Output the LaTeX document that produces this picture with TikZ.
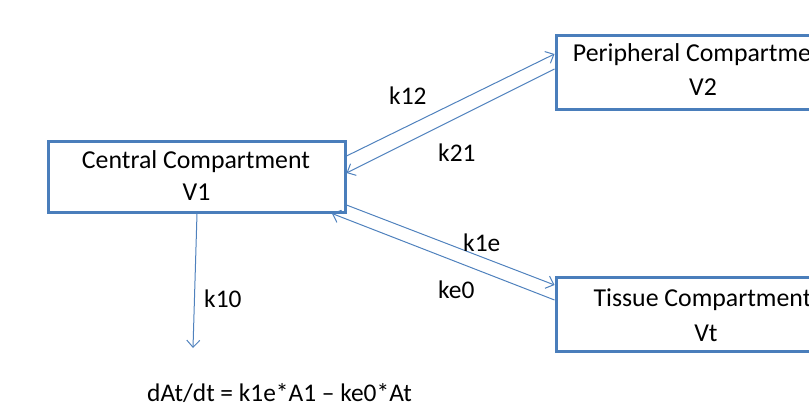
\documentclass[tikz,border=0pt]{standalone}
\usepackage{fontspec}
\setmainfont{Carlito}
\usetikzlibrary{arrows.meta}
\definecolor{boxblue}{RGB}{74,126,187}
\definecolor{arrblue}{RGB}{79,129,189}
\begin{document}
\begin{tikzpicture}[x=1pt,y=-1pt,
  box/.style={draw=boxblue, line width=3pt, fill=white, inner sep=0pt},
  txt/.style={anchor=base, inner sep=0pt, font=\fontsize{25.8}{30}\selectfont},
  lbl/.style={anchor=base west, inner sep=0pt, font=\fontsize{25.4}{30}\selectfont},
  flow/.style={draw=arrblue, line width=1pt, -{Straight Barb[length=7pt,width=13pt]}}]
\useasboundingbox (0,0) rectangle (809,404);
\clip (0,0) rectangle (809,404);
% boxes
\node[box, minimum width=297pt, minimum height=71pt] (c) at (196.5,176.5) {};
\node[box, minimum width=296pt, minimum height=73pt] (p) at (704,72.5) {};
\node[box, minimum width=300pt, minimum height=74pt] (t) at (706,314) {};
% box texts
\node[txt] (ct1) at (196,168.5) {Central Compartment};
\node[txt] (ct2) at (196.5,200.5) {V1};
\node[txt] (pt1) at (703,61.5) {Peripheral Compartment};
\node[txt] (pt2) at (703,95.5) {V2};
\node[txt] (tt1) at (702.5,306.5) {Tissue Compartment};
\node[txt] (tt2) at (706,341.5) {Vt};
% connector end points
\coordinate (a12s) at (346.5,156);
\coordinate (a12e) at (554.5,54);
\coordinate (a21s) at (554.5,69);
\coordinate (a21e) at (346.5,173);
\coordinate (a1es) at (346.5,205);
\coordinate (a1ee) at (554.5,285);
\coordinate (ae0s) at (554.5,300);
\coordinate (ae0e) at (332,213.5);
\coordinate (a10s) at (197,213.5);
\coordinate (a10e) at (193,348);
% connectors
\draw[flow] (a12s) -- (a12e);
\draw[flow] (a21s) -- (a21e);
\draw[flow] (a1es) -- (a1ee);
\draw[flow] (ae0s) -- (ae0e);
\draw[flow] (a10s) -- (a10e);
% labels
\node[lbl] (l12) at (389,104) {k12};
\node[lbl] (l21) at (438,161) {k21};
\node[lbl] (l1e) at (463,251) {k1e};
\node[lbl] (le0) at (438,298) {ke0};
\node[lbl] (l10) at (204,307) {k10};
\node[lbl] (eq) at (147,401) {dAt/dt = k1e*A1 – ke0*At};
\end{tikzpicture}
\end{document}
